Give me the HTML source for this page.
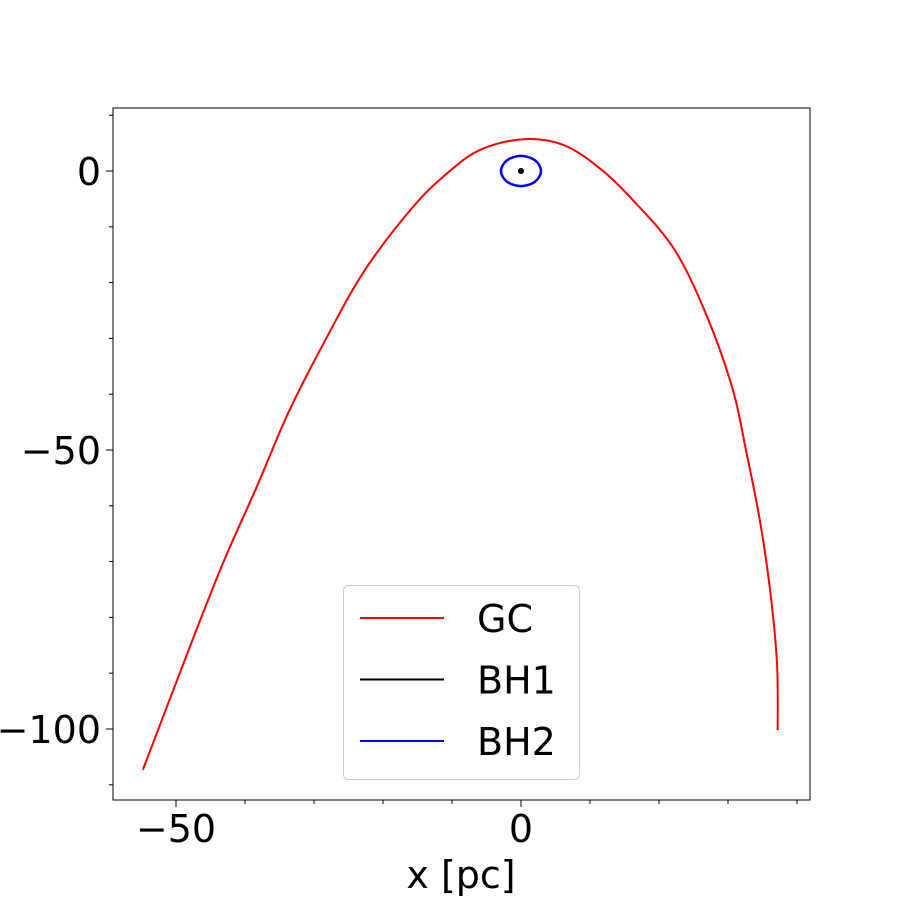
<!DOCTYPE html>
<html><head><meta charset="utf-8"><style>
body{margin:0;background:#fff}
svg{display:block;font-family:"DejaVu Sans","Liberation Sans",sans-serif}
</style></head><body>
<svg id="chart" width="900" height="900">
<rect x="0" y="0" width="900" height="900" fill="#fff"/>
<g id="marks"></g>
<g id="axes"></g>
</svg>
<script>
const gcX=[-54.8,-48.0,-43.2,-38.3,-33.6,-28.1,-22.6,-15.7,-10.7,-5.9,0.3,6.1,11.4,16.2,22.3,27.0,30.7,32.6,34.6,36.1,37.1,37.2];
const gcY=[-107.3,-85.3,-70.3,-56.6,-43.0,-29.7,-17.7,-6.5,-0.4,3.8,5.7,4.7,0.5,-5.2,-14.2,-26.2,-39.2,-50.0,-62.5,-75.1,-88.2,-100.2];
const bh2X=[2.9,2.05,0,-2.05,-2.9,-2.05,0,2.05];
const bh2Y=[0,1.9,2.7,1.9,0,-1.9,-2.7,-1.9];
const bh1X=[0];
const bh1Y=[0];
const xTicks=[-50,0];
const yTicks=[0,-50,-100];
const xMinor=[-60,-40,-30,-20,-10,10,20,30,40];
const yMinor=[10,-10,-20,-30,-40,-60,-70,-80,-90,-110];
const legendLabels=["GC","BH1","BH2"];

const L=113,R=810,T=108,B=800;
const sx=v=>521+v*6.9;
const sy=v=>171-v*5.58;
const NS="http://www.w3.org/2000/svg";
const marks=document.getElementById('marks'),axes=document.getElementById('axes');
function mk(tag,attrs,parent){const e=document.createElementNS(NS,tag);for(const k in attrs)e.setAttribute(k,attrs[k]);parent.appendChild(e);return e;}
function smooth(pts,closed){
  const n=pts.length;let d=`M${pts[0][0]},${pts[0][1]}`;
  const g=i=>closed?pts[(i+n)%n]:pts[Math.max(0,Math.min(n-1,i))];
  const m=closed?n:n-1;
  for(let i=0;i<m;i++){const p0=g(i-1),p1=g(i),p2=g(i+1),p3=g(i+2);
    d+=` C${p1[0]+(p2[0]-p0[0])/6},${p1[1]+(p2[1]-p0[1])/6} ${p2[0]-(p3[0]-p1[0])/6},${p2[1]-(p3[1]-p1[1])/6} ${p2[0]},${p2[1]}`;}
  return d+(closed?'Z':'');
}
const gc=mk('path',{d:smooth(gcX.map((x,i)=>[sx(x),sy(gcY[i])]),false),fill:'none',stroke:'#ff0000','stroke-width':2},marks);


const bh2=mk('path',{d:smooth(bh2X.map((x,i)=>[sx(x),sy(bh2Y[i])]),true),fill:'none',stroke:'#0000ff','stroke-width':2.5},marks);


bh1X.forEach((x,i)=>{const c=mk('circle',{cx:sx(x),cy:sy(bh1Y[i]),r:3,fill:'#000'},marks);

});

const frame=mk('rect',{x:L,y:T,width:R-L,height:B-T,fill:'none',stroke:'#000','stroke-width':1},axes);


xTicks.forEach(v=>{mk('line',{x1:sx(v),x2:sx(v),y1:B,y2:B+7,stroke:'#000'},axes);
 const t=mk('text',{x:sx(v),y:B+42,'text-anchor':'middle','font-size':38},axes);t.textContent=v<0?'\u2212'+(-v):v;
 
 });
xMinor.forEach(v=>{if(sx(v)>L&&sx(v)<R)mk('line',{x1:sx(v),x2:sx(v),y1:B,y2:B+4,stroke:'#000'},axes);});
yTicks.forEach(v=>{mk('line',{x1:L-7,x2:L,y1:sy(v),y2:sy(v),stroke:'#000'},axes);
 const t=mk('text',{x:L-12,y:sy(v)+14,'text-anchor':'end','font-size':38},axes);t.textContent=v<0?'\u2212'+(-v):v;
 
 });
yMinor.forEach(v=>{if(sy(v)>T&&sy(v)<B)mk('line',{x1:L-4,x2:L,y1:sy(v),y2:sy(v),stroke:'#000'},axes);});
const xl=mk('text',{x:461,y:888,'text-anchor':'middle','font-size':38},axes);xl.textContent='x [pc]';



const lg=mk('g',{},axes);


mk('rect',{x:343.5,y:585.5,width:236,height:194,rx:5,fill:'#fff','fill-opacity':0.8,stroke:'#ccc'},lg);
const cols=['#ff0000','#000000','#0000ff'];
legendLabels.forEach((s,i)=>{const y=618+i*61.5;
 const e=mk('g',{},lg);
 
 
 mk('line',{x1:360,x2:444,y1:y,y2:y,stroke:cols[i],'stroke-width':2},e);
 const t=mk('text',{x:477,y:y+14,'font-size':38},e);t.textContent=s;});
</script>
</body></html>
